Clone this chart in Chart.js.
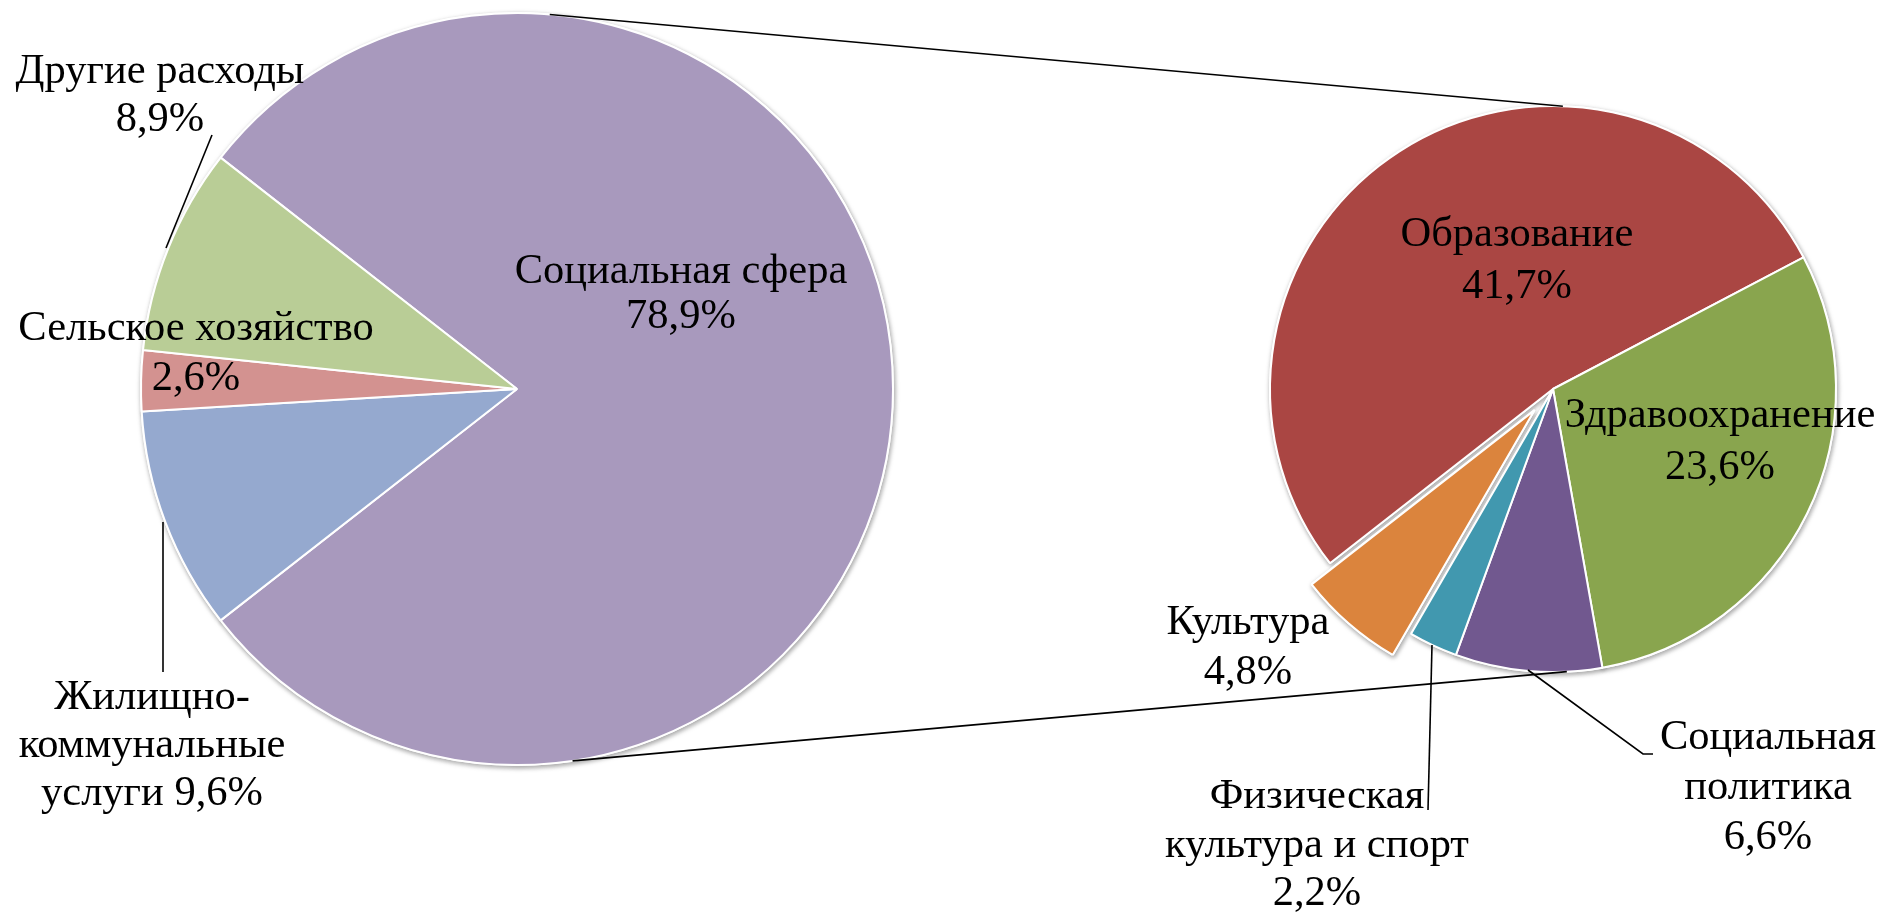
<!DOCTYPE html>
<html><head><meta charset="utf-8">
<script src="https://cdn.jsdelivr.net/npm/chart.js@4.4.1/dist/chart.umd.min.js"></script>
<style>
html,body{margin:0;padding:0;background:#fff;overflow:hidden;width:1901px;height:917px;}
canvas{position:absolute;left:0;top:0;}
</style></head><body>
<canvas id="c1" width="1901" height="917"></canvas>
<canvas id="c2" width="1901" height="917"></canvas>
<script>
// ---- data ----
const mainCategories = ['Социальная сфера', 'Жилищно-коммунальные услуги', 'Сельское хозяйство', 'Другие расходы'];
const mainValues = [78.9, 9.6, 2.6, 8.9];
const socialCategories = ['Образование', 'Здравоохранение', 'Социальная политика', 'Физическая культура и спорт', 'Культура'];
const socialValues = [41.7, 23.6, 6.6, 2.2, 4.8];

// ---- styles / layout ----
const mainColors = ['#A899BD', '#95A9CF', '#D39290', '#B9CD96'];
const socialColors = ['#AA4643', '#89A54E', '#71588F', '#4198AF', '#DB843D'];
const FONT = '42.5px "Liberation Serif", "Times New Roman", serif';
const pct = v => v.toFixed(1).replace('.', ',') + '%';

const mainLabelLines = [
  [mainCategories[0], pct(mainValues[0])],
  ['Жилищно-', 'коммунальные', 'услуги ' + pct(mainValues[1])],
  [mainCategories[2], pct(mainValues[2])],
  [mainCategories[3], pct(mainValues[3])]
];
const socialLabelLines = [
  [socialCategories[0], pct(socialValues[0])],
  [socialCategories[1], pct(socialValues[1])],
  ['Социальная', 'политика', pct(socialValues[2])],
  ['Физическая', 'культура и спорт', pct(socialValues[3])],
  [socialCategories[4], pct(socialValues[4])]
];
// label placement relative to pie centre: first line centre + line height
const mainLabelPos = [
  {dx: 164, dy: -117, lh: 45},
  {dx: -365, dy: 309, lh: 48},
  {dx: -321, dy: -60, lh: 50},
  {dx: -357, dy: -317, lh: 48}
];
const socialLabelPos = [
  {dx: -36, dy: -154, lh: 52},
  {dx: 167, dy: 27, lh: 52},
  {dx: 215, dy: 349, lh: 50},
  {dx: -236, dy: 408, lh: 48.5},
  {dx: -305, dy: 234, lh: 50}
];
const mainLeaders = [
  [[-305, -254], [-351, -141]],
  [[-354, 133], [-354, 283]]
];
const socialLeaders = [
  [[-25, 281], [90, 365], [100, 365]],
  [[-121, 256], [-125, 421]]
];
const explodeIndex = 4;   // Культура
const explodeDist = 28;

function shadowPlugin() {
  return {
    id: 'shadow',
    beforeDatasetsDraw(chart) {
      const ctx = chart.ctx;
      ctx.save();
      ctx.shadowColor = 'rgba(0,0,0,0.35)';
      ctx.shadowBlur = 5;
      ctx.shadowOffsetX = 1;
      ctx.shadowOffsetY = 2;
      chart.getDatasetMeta(0).data.forEach(a => a.draw(ctx));
      ctx.restore();
    }
  };
}

function labelPlugin(lines, pos, leaders) {
  return {
    id: 'labels',
    afterDatasetsDraw(chart) {
      const ctx = chart.ctx;
      const cx = (chart.chartArea.left + chart.chartArea.right) / 2;
      const cy = (chart.chartArea.top + chart.chartArea.bottom) / 2;
      ctx.save();
      ctx.strokeStyle = '#000';
      ctx.lineWidth = 1.6;
      leaders.forEach(pts => {
        ctx.beginPath();
        pts.forEach((p, i) => i ? ctx.lineTo(cx + p[0], cy + p[1]) : ctx.moveTo(cx + p[0], cy + p[1]));
        ctx.stroke();
      });
      ctx.font = FONT;
      ctx.fillStyle = '#000';
      ctx.textAlign = 'center';
      ctx.textBaseline = 'middle';
      lines.forEach((ls, i) => {
        const p = pos[i];
        ls.forEach((t, j) => ctx.fillText(t, cx + p.dx, cy + p.dy + j * p.lh));
      });
      ctx.restore();
    }
  };
}

const W = 1901, H = 917;
const L = {x: 517, y: 389, r: 376};
const R = {x: 1553, y: 389, r: 283};

const leftChart = new Chart(document.getElementById('c1'), {
  type: 'pie',
  data: {
    labels: mainCategories,
    datasets: [{data: mainValues, backgroundColor: mainColors, borderColor: '#fff', borderWidth: 2}]
  },
  options: {
    responsive: false,
    animation: false,
    radius: L.r,
    rotation: 90 - mainValues[0] / mainValues.reduce((a, b) => a + b, 0) * 180,
    layout: {padding: {left: 0, top: 0, right: W - 2 * L.x, bottom: H - 2 * L.y}},
    plugins: {legend: {display: false}, tooltip: {enabled: false}}
  },
  plugins: [shadowPlugin(), labelPlugin(mainLabelLines, mainLabelPos, mainLeaders)]
});

const rightChart = new Chart(document.getElementById('c2'), {
  type: 'pie',
  data: {
    labels: socialCategories,
    datasets: [{data: socialValues, backgroundColor: socialColors, borderColor: '#fff', borderWidth: 2}]
  },
  options: {
    responsive: false,
    animation: false,
    radius: R.r,
    rotation: 232,
    layout: {padding: {left: 2 * R.x - W, top: 0, right: 0, bottom: H - 2 * R.y}},
    plugins: {legend: {display: false}, tooltip: {enabled: false}}
  },
  plugins: [
    {
      id: 'explode',
      afterDatasetsUpdate(chart) {
        const a = chart.getDatasetMeta(0).data[explodeIndex];
        const mid = (a.startAngle + a.endAngle) / 2;
        a.x += Math.cos(mid) * explodeDist;
        a.y += Math.sin(mid) * explodeDist;
      }
    },
    shadowPlugin(),
    labelPlugin(socialLabelLines, socialLabelPos, socialLeaders),
    {
      id: 'connectors',
      afterDraw(chart) {
        const la = leftChart.getDatasetMeta(0).data[0];
        const ra = chart.getDatasetMeta(0).data[0];
        const ctx = chart.ctx;
        const d = Math.PI / 180;
        const pt = (a, ang) => [a.x + Math.cos(ang * d) * a.outerRadius, a.y + Math.sin(ang * d) * a.outerRadius];
        const segs = [[pt(la, -85), pt(ra, -88)], [pt(la, 81.5), pt(ra, 87.2)]];
        ctx.save();
        ctx.strokeStyle = '#000';
        ctx.lineWidth = 1.6;
        segs.forEach(s => {
          ctx.beginPath();
          ctx.moveTo(s[0][0], s[0][1]);
          ctx.lineTo(s[1][0], s[1][1]);
          ctx.stroke();
        });
        ctx.restore();
      }
    }
  ]
});
</script>
</body></html>
